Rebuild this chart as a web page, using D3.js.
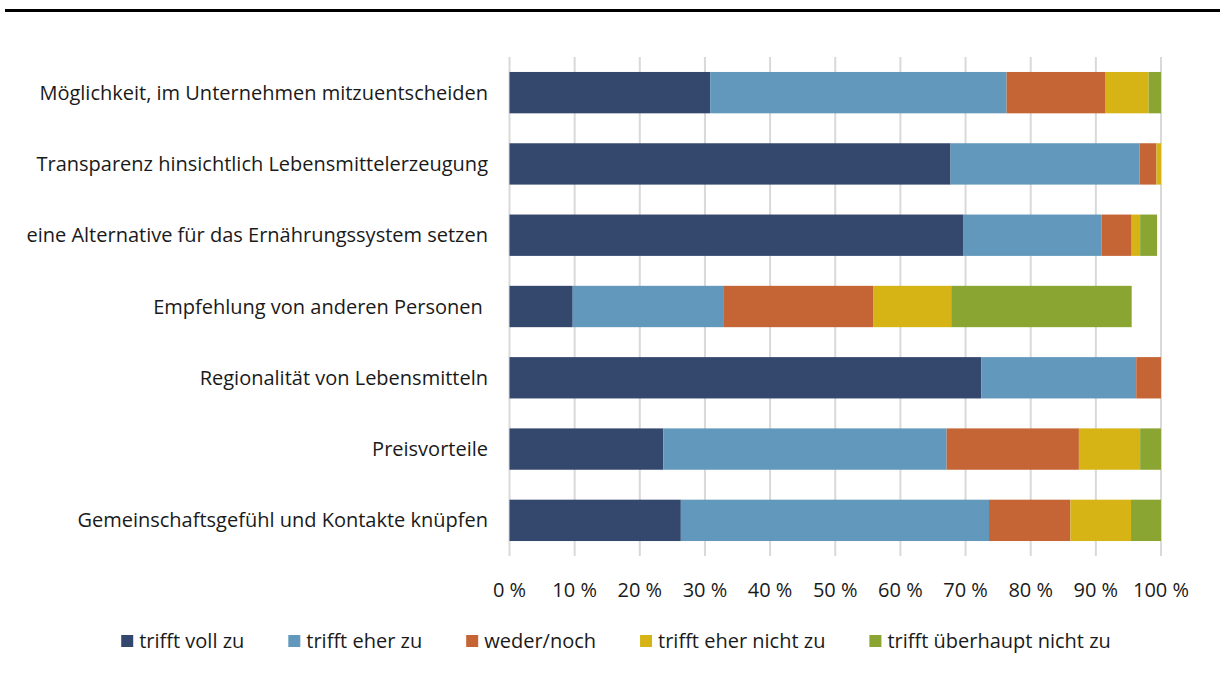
<!DOCTYPE html>
<html>
<head>
<meta charset="utf-8">
<script src="https://cdn.jsdelivr.net/npm/d3@7"></script>
<style>
  body { margin: 0; background: #fff; }
  svg text { font-family: "Open Sans", "Noto Sans", sans-serif; fill: #1a1a1a; white-space: pre; }
</style>
</head>
<body>
<div id="chart"></div>
<script>
// categories, top to bottom
var categories = [
  "Möglichkeit, im Unternehmen mitzuentscheiden",
  "Transparenz hinsichtlich Lebensmittelerzeugung",
  "eine Alternative für das Ernährungssystem setzen",
  "Empfehlung von anderen Personen ",
  "Regionalität von Lebensmitteln",
  "Preisvorteile",
  "Gemeinschaftsgefühl und Kontakte knüpfen"
];

var seriesNames = ["trifft voll zu", "trifft eher zu", "weder/noch", "trifft eher nicht zu", "trifft überhaupt nicht zu"];

// percent values per series, same order as categories
var voll      = [30.8, 67.7, 69.7,  9.7, 72.4, 23.6, 26.3];
var eher      = [45.5, 29.0, 21.2, 23.1, 23.8, 43.5, 47.3];
var weder     = [15.2,  2.6,  4.6, 23.0,  3.8, 20.3, 12.5];
var eherNicht = [ 6.6,  0.7,  1.3, 12.0,  0.0,  9.4,  9.3];
var garNicht  = [ 1.9,  0.0,  2.6, 27.7,  0.0,  3.2,  4.6];

var xTicks = [0, 10, 20, 30, 40, 50, 60, 70, 80, 90, 100];

var colors = ["#34486e", "#6198bb", "#c56535", "#d6b416", "#8aa531"];

var W = 1220, H = 678;
var svg = d3.select("#chart").append("svg").attr("width", W).attr("height", H);

// black rule at the top
svg.append("rect").attr("x", 5).attr("y", 9).attr("width", W - 5).attr("height", 3).attr("fill", "#000");

var xScale = d3.scaleLinear().domain([0, 100]).range([509.5, 1161]);
var yScale = d3.scaleBand().domain(categories).range([57, 556]).paddingInner(0.42).paddingOuter(0.21);

// gridlines
svg.append("g").selectAll("line").data(xTicks).join("line")
    .attr("x1", d => xScale(d)).attr("x2", d => xScale(d))
    .attr("y1", 57).attr("y2", 556)
    .attr("stroke", "#d9d9d9").attr("stroke-width", 2);

// build stack rows
var rows = categories.map(function(c, i) {
  return {cat: c, s0: voll[i], s1: eher[i], s2: weder[i], s3: eherNicht[i], s4: garNicht[i]};
});
var stack = d3.stack().keys(["s0", "s1", "s2", "s3", "s4"]);
var layers = stack(rows);

svg.append("g").selectAll("g").data(layers).join("g")
    .attr("fill", (d, i) => colors[i])
  .selectAll("rect").data(d => d).join("rect")
    .attr("x", d => xScale(d[0]))
    .attr("width", d => Math.max(0, xScale(d[1]) - xScale(d[0])))
    .attr("y", d => yScale(d.data.cat))
    .attr("height", yScale.bandwidth());

// category labels
svg.append("g").selectAll("text").data(categories).join("text")
    .attr("x", 488)
    .attr("y", d => yScale(d) + yScale.bandwidth() / 2)
    .attr("dy", "0.35em")
    .attr("text-anchor", "end")
    .style("font-size", "20px")
    .text(d => d);

// x tick labels
svg.append("g").selectAll("text").data(xTicks).join("text")
    .attr("x", d => xScale(d))
    .attr("y", 590)
    .attr("dy", "0.35em")
    .attr("text-anchor", "middle")
    .style("font-size", "20px")
    .text(d => d + " %");

// legend
var legend = svg.append("g");
var items = legend.selectAll("g").data(seriesNames).join("g");
items.append("rect").attr("width", 12).attr("height", 12).attr("y", -6)
    .attr("fill", (d, i) => colors[i]);
items.append("text").attr("x", 18).attr("dy", "0.35em")
    .style("font-size", "20px").text(d => d);
var xPos = 0;
items.each(function() {
  var g = d3.select(this);
  g.attr("transform", "translate(" + xPos + ",0)");
  xPos += 18 + g.select("text").node().getComputedTextLength() + 44;
});
var legendWidth = xPos - 44;
legend.attr("transform", "translate(" + (616 - legendWidth / 2) + ",641)");
</script>
</body>
</html>
